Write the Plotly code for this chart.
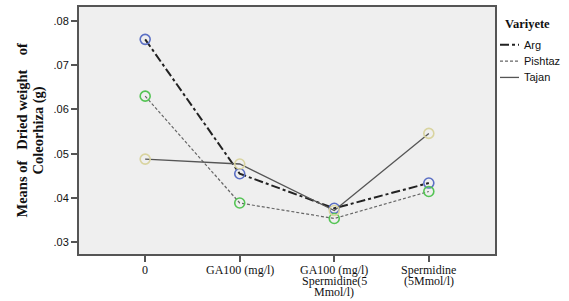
import plotly.graph_objects as go

categories = ["0", "GA100 (mg/l)", "GA100 (mg/l)<br>Spermidine(5<br>Mmol/l)", "Spermidine<br>(5Mmol/l)"]
arg = [0.0758, 0.0455, 0.0377, 0.0434]
pishtaz = [0.0630, 0.0389, 0.0354, 0.0415]
tajan = [0.0488, 0.0477, 0.0372, 0.0546]
ytickvals = [0.03, 0.04, 0.05, 0.06, 0.07, 0.08]
yticktext = [".03", ".04", ".05", ".06", ".07", ".08"]
series_names = ["Arg", "Pishtaz", "Tajan"]
ytitle_lines = ["Means of   Dried weight    of", "Coleorhiza (g)"]
legend_title = "Variyete"

x = list(range(len(categories)))

# plot area in pixels
W, H = 569, 301
L, R, T, B = 79, 74, 5, 47
pw, ph = W - L - R, H - T - B

def px_x(p):
    return (p - L) / pw

def px_y(p):
    return (H - B - p) / ph

styles = [
    (dict(color="#222222", width=2, dash="dashdot"), "#5b6fc4"),
    (dict(color="#666666", width=1.2, dash="3px,2px"), "#55c455"),
    (dict(color="#555555", width=1.3, dash="solid"), "#d9d4a0"),
]
data = [arg, pishtaz, tajan]

fig = go.Figure()
for name, vals, (line, mc) in zip(series_names, data, styles):
    fig.add_trace(go.Scatter(
        x=x, y=vals, name=name, mode="lines+markers", showlegend=False,
        line=line,
        marker=dict(symbol="circle-open", size=10, color=mc, line=dict(width=1.6, color=mc)),
    ))

annotations = []
# x tick labels, one line per annotation for tight line spacing
for i, lab in enumerate(categories):
    for j, part in enumerate(lab.split("<br>")):
        annotations.append(dict(
            x=i, xref="x", y=0, yref="paper", text=part, showarrow=False,
            xanchor="center", yanchor="middle", yshift=-16 - 11 * j, borderpad=0,
            font=dict(family="Liberation Serif", size=12, color="#111"),
        ))
# y axis title (two rotated lines)
for j, (part, xs) in enumerate(zip(ytitle_lines, [21, 38])):
    annotations.append(dict(
        x=0, xref="paper", y=0.5, yref="paper", text="<b>" + part + "</b>", showarrow=False,
        textangle=-90, xanchor="center", yanchor="middle", xshift=xs - L, borderpad=0,
        font=dict(family="Liberation Serif", size=14.5, color="#111"),
    ))
# legend
annotations.append(dict(
    x=px_x(503), xref="paper", y=px_y(22), yref="paper", text="<b>" + legend_title + "</b>",
    showarrow=False, xanchor="left", yanchor="middle",
    font=dict(family="Liberation Serif", size=12.5, color="#111"),
))
shapes = []
for k, (name, (line, mc)) in enumerate(zip(series_names, styles)):
    yy = px_y(43 + 16.5 * k)
    shapes.append(dict(type="line", xref="paper", yref="paper",
                       x0=px_x(500), x1=px_x(519), y0=yy, y1=yy,
                       line=dict(color=line["color"], width=line["width"], dash=line["dash"])))
    annotations.append(dict(
        x=px_x(522), xref="paper", y=yy, yref="paper", text=name, showarrow=False,
        xanchor="left", yanchor="middle",
        font=dict(family="Liberation Sans", size=11, color="#111"),
    ))

fig.update_layout(
    width=W, height=H,
    margin=dict(l=L, r=R, t=T, b=B),
    paper_bgcolor="white",
    plot_bgcolor="#efefef",
    showlegend=False,
    annotations=annotations,
    shapes=shapes,
    xaxis=dict(
        range=[-0.7, 3.7], tickvals=x, ticktext=[""] * len(x),
        showline=True, linecolor="#555555", linewidth=2, mirror=True,
        ticks="outside", ticklen=6, tickcolor="#555555", tickwidth=2,
        showgrid=False, zeroline=False,
    ),
    yaxis=dict(
        range=[0.0274, 0.0831], tickvals=ytickvals, ticktext=yticktext,
        showline=True, linecolor="#555555", linewidth=2, mirror=True,
        ticks="outside", ticklen=6, tickcolor="#555555", tickwidth=2,
        showgrid=False, zeroline=False,
        tickfont=dict(family="Liberation Sans", size=11, color="#111"),
    ),
)

fig.write_html(
    "out.html",
    config={"displayModeBar": False},
    post_script="document.body.style.margin='0';document.body.style.overflow='hidden';",
)
